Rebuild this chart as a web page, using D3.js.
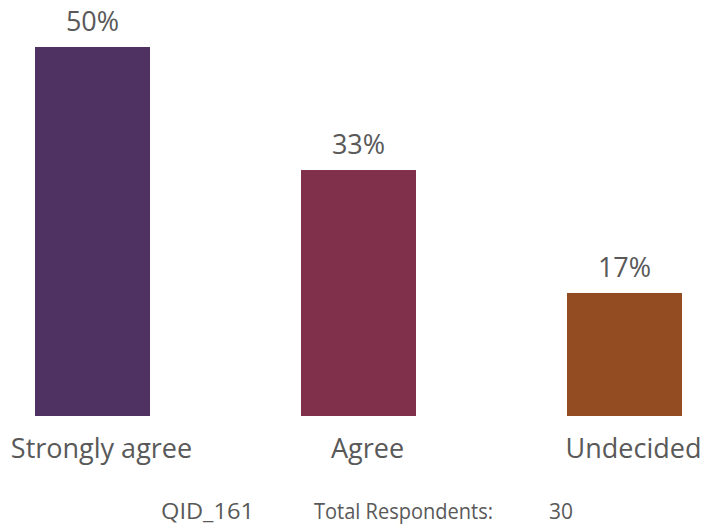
<!DOCTYPE html>
<html><head><meta charset="utf-8">
<script src="https://cdn.jsdelivr.net/npm/d3@7"></script>
<style>body{margin:0;background:#fff}svg{display:block}text{font-family:"Open Sans",sans-serif;fill:#595959}</style>
</head><body>
<script>
const categories = ["Strongly agree", "Agree", "Undecided"];
const values = [50, 33.33, 16.67];
const valueLabels = ["50%", "33%", "17%"];
const colors = ["#4F3262", "#80304A", "#934C22"];
const footerId = "QID_161";
const footerLabel = "Total Respondents:";
const footerCount = "30";

const W = 704, H = 527;
const svg = d3.select("body").append("svg").attr("width", W).attr("height", H);
const bx = d3.scalePoint().domain(categories).range([92.5, 624.5]);
const bw = 115;
const y = d3.scaleLinear().domain([0, 50]).range([416, 47]);

svg.selectAll("rect.bar").data(categories).join("rect")
  .attr("x", d => bx(d) - bw / 2).attr("width", bw)
  .attr("y", (d, i) => y(values[i])).attr("height", (d, i) => y(0) - y(values[i]))
  .attr("fill", (d, i) => colors[i]);

svg.selectAll("text.val").data(categories).join("text")
  .attr("x", d => bx(d)).attr("y", (d, i) => y(values[i]) - 16)
  .attr("text-anchor", "middle").style("font-size", "27px").text((d, i) => valueLabels[i]);

svg.selectAll("text.cat").data(categories).join("text")
  .attr("x", d => bx(d) + 9).attr("y", 458)
  .attr("text-anchor", "middle").style("font-size", "27px").text(d => d);

svg.append("text").attr("x", 161).attr("y", 519).style("font-size", "21px").attr("textLength", 93).attr("lengthAdjust", "spacingAndGlyphs").text(footerId);
svg.append("text").attr("x", 314).attr("y", 519).style("font-size", "21px").attr("textLength", 179).attr("lengthAdjust", "spacingAndGlyphs").text(footerLabel);
svg.append("text").attr("x", 549).attr("y", 519).style("font-size", "21px").text(footerCount);
</script>
</body></html>
